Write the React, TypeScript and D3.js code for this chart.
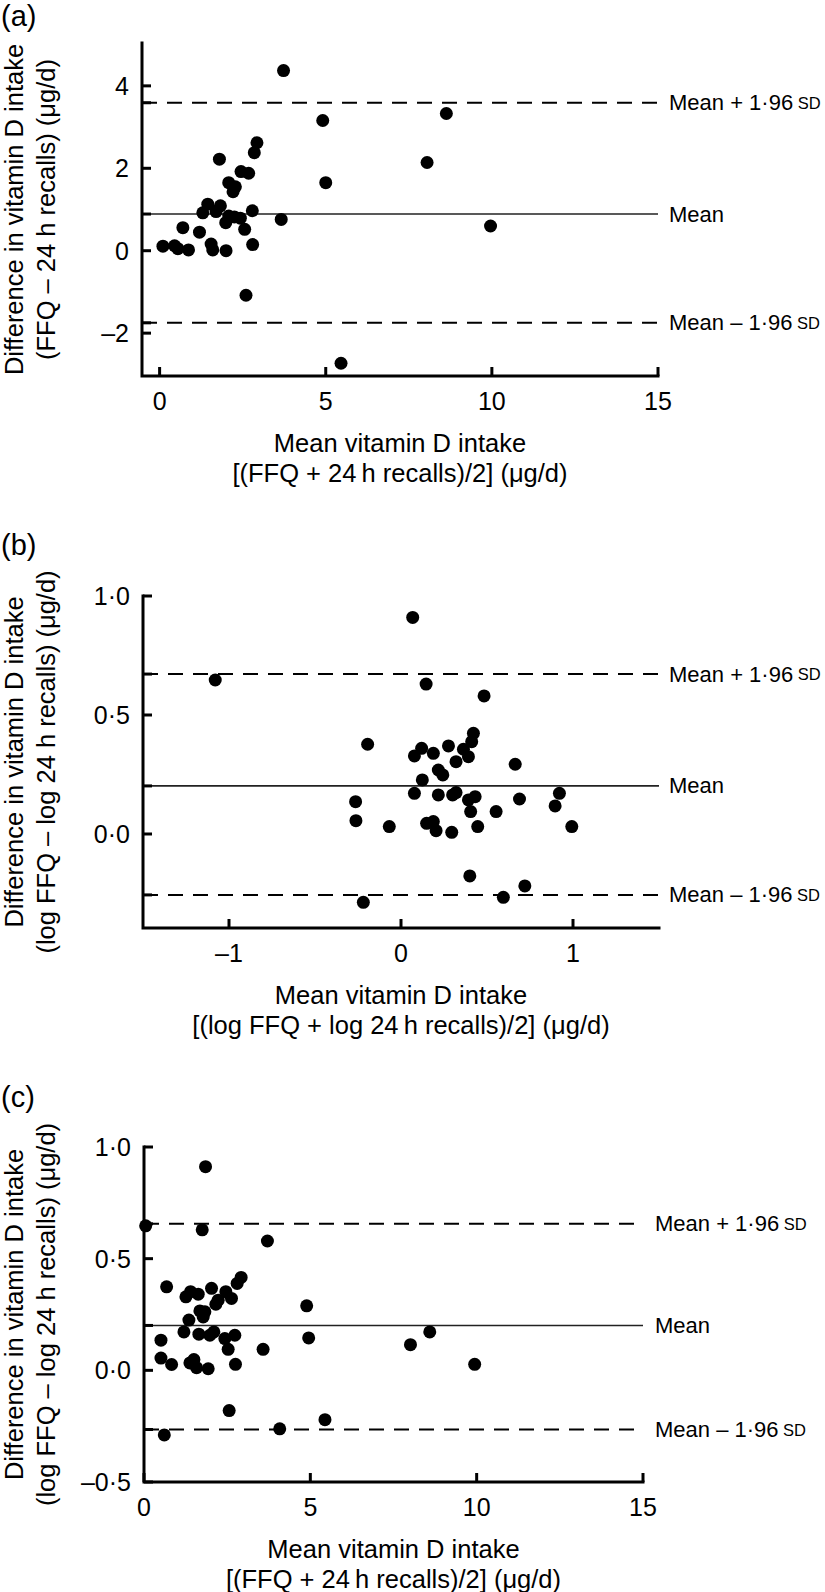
import React from 'react';
import * as d3 from 'd3';

type Pt = [number, number];

// (a) mean intake (µg/d) vs difference FFQ - 24 h recalls
const pointsA: Pt[] = [
  [3.73, 4.37], [4.91, 3.16], [2.93, 2.62], [2.85, 2.38], [1.8, 2.22],
  [2.45, 1.92], [2.68, 1.88], [5.0, 1.65], [2.08, 1.65], [2.28, 1.55],
  [2.21, 1.43], [1.45, 1.13], [1.83, 1.09], [1.3, 0.92], [1.7, 0.95],
  [2.08, 0.84], [2.25, 0.82], [1.99, 0.68], [2.43, 0.79], [2.79, 0.97],
  [2.56, 0.52], [3.66, 0.76], [1.2, 0.45], [0.7, 0.56], [0.1, 0.11],
  [0.45, 0.12], [0.55, 0.05], [0.87, 0.02], [1.55, 0.16], [1.6, 0.02],
  [2.0, 0.0], [2.8, 0.15], [2.6, -1.08], [8.63, 3.33], [8.05, 2.14],
  [9.96, 0.6], [5.46, -2.73],
];

// (b) log scale
const pointsB: Pt[] = [
  [0.068, 0.91], [-1.08, 0.647], [0.146, 0.63], [0.483, 0.58], [-0.194, 0.377],
  [0.421, 0.423], [0.411, 0.388], [0.276, 0.37], [0.12, 0.36], [0.078, 0.328],
  [0.188, 0.339], [0.363, 0.356], [0.392, 0.325], [0.32, 0.304], [0.664, 0.293],
  [0.217, 0.269], [0.243, 0.248], [0.124, 0.227], [0.078, 0.171], [0.217, 0.164],
  [0.3, 0.164], [0.32, 0.174], [0.392, 0.143], [0.431, 0.157], [0.405, 0.094],
  [0.553, 0.094], [0.689, 0.147], [0.921, 0.171], [0.896, 0.118], [0.993, 0.031],
  [-0.264, 0.136], [-0.262, 0.056], [-0.068, 0.031], [0.149, 0.045], [0.188, 0.052],
  [0.204, 0.014], [0.295, 0.007], [0.446, 0.031], [0.4, -0.176], [0.72, -0.218],
  [0.595, -0.266], [-0.219, -0.287],
];

// (c) log difference vs untransformed mean
const pointsC: Pt[] = [
  [1.85, 0.912], [0.05, 0.647], [1.75, 0.629], [3.71, 0.579], [0.68, 0.374],
  [1.26, 0.329], [1.4, 0.352], [1.63, 0.341], [2.03, 0.367], [2.46, 0.352],
  [2.63, 0.322], [2.8, 0.389], [2.92, 0.416], [2.23, 0.314], [2.16, 0.296],
  [4.89, 0.289], [1.68, 0.266], [1.83, 0.262], [1.78, 0.239], [1.35, 0.225],
  [1.2, 0.172], [1.65, 0.162], [1.98, 0.157], [2.1, 0.172], [2.43, 0.142],
  [2.73, 0.157], [2.53, 0.094], [0.51, 0.135], [0.51, 0.055], [0.83, 0.026],
  [1.38, 0.033], [1.5, 0.048], [1.58, 0.012], [1.93, 0.007], [2.75, 0.027],
  [3.58, 0.094], [4.95, 0.145], [8.01, 0.115], [8.59, 0.172], [9.94, 0.027],
  [2.56, -0.18], [5.44, -0.221], [4.08, -0.262], [0.61, -0.289],
];

// upper limit, mean, lower limit
const limitsA = [3.59, 0.89, -1.75];
const limitsB = [0.672, 0.202, -0.256];
const limitsC = [0.656, 0.201, -0.265];

const ticksXA = [0, 5, 10, 15];
const ticksYA = [-2, 0, 2, 4];
const ticksXB = [-1, 0, 1];
const ticksYB = [0, 0.5, 1];
const ticksXC = [0, 5, 10, 15];
const ticksYC = [-0.5, 0, 0.5, 1];

const limitLabels = ['Mean + 1·96', 'Mean', 'Mean – 1·96'];

const xTitleA = ['Mean vitamin D intake', '[(FFQ + 24\u2009h recalls)/2] (μg/d)'];
const xTitleB = ['Mean vitamin D intake', '[(log FFQ + log 24\u2009h recalls)/2] (μg/d)'];
const yTitleA = ['Difference in vitamin D intake', '(FFQ – 24 h recalls) (μg/d)'];
const yTitleB = ['Difference in vitamin D intake', '(log FFQ – log 24 h recalls) (μg/d)'];

const FONT = '"Liberation Sans", Arial, Helvetica, sans-serif';

const fmtInt = (v: number) => String(v).replace('-', '–');
const fmtDec = (v: number) => d3.format('.1f')(v).replace('.', '·').replace('-', '–').replace('−', '–');

interface PanelCfg {
  letter: string;
  left: number; right: number; top: number; bottom: number;
  xDomain: [number, number]; yDomain: [number, number];
  xTicks: number[]; yTicks: number[];
  xFmt: (v: number) => string; yFmt: (v: number) => string;
  points: Pt[];
  limits: number[];
  xTitle: string[]; yTitle: string[];
  labelX: number;
  letterY: number;
}

const Panel: React.FC<{ cfg: PanelCfg }> = ({ cfg }) => {
  const x = d3.scaleLinear().domain(cfg.xDomain).range([cfg.left, cfg.right]);
  const y = d3.scaleLinear().domain(cfg.yDomain).range([cfg.bottom, cfg.top]);
  const cy = (cfg.top + cfg.bottom) / 2;
  const cx = (cfg.left + cfg.right) / 2;
  const tickLen = 9;

  return (
    <g>
      <text x={1} y={cfg.letterY} fontSize={29}>{cfg.letter}</text>

      {/* agreement lines */}
      {cfg.limits.map((v, i) => (
        <line key={'l' + i}
          x1={cfg.left} x2={cfg.right} y1={y(v)} y2={y(v)}
          stroke={i === 1 ? '#222' : '#000'}
          strokeWidth={i === 1 ? 1.6 : 2}
          strokeDasharray={i === 1 ? undefined : '15 10'} />
      ))}
      {cfg.limits.map((v, i) => (
        <line key={'lt' + i} x1={cfg.left} x2={cfg.left + tickLen} y1={y(v)} y2={y(v)}
          stroke="#000" strokeWidth={3} />
      ))}
      {cfg.limits.map((v, i) => (
        <text key={'ll' + i} x={cfg.labelX} y={y(v)} dominantBaseline="central" fontSize={22}>
          {limitLabels[i]}
          {i !== 1 && <tspan fontSize={16.5}>{' SD'}</tspan>}
        </text>
      ))}

      {/* points */}
      {cfg.points.map((p, i) => (
        <circle key={'p' + i} cx={x(p[0])} cy={y(p[1])} r={6.5} fill="#000" />
      ))}

      {/* axes */}
      <path d={`M${cfg.left},${cfg.top}V${cfg.bottom}H${cfg.right}`} fill="none"
        stroke="#000" strokeWidth={3} strokeLinejoin="miter" strokeLinecap="square" />
      {cfg.yTicks.map((t) => (
        <g key={'yt' + t}>
          <line x1={cfg.left} x2={cfg.left + tickLen} y1={y(t)} y2={y(t)} stroke="#000" strokeWidth={3} />
          <text x={cfg.left - 13} y={y(t)} textAnchor="end" dominantBaseline="central" fontSize={25}>
            {cfg.yFmt(t)}
          </text>
        </g>
      ))}
      {cfg.xTicks.map((t) => (
        <g key={'xt' + t}>
          <line x1={x(t)} x2={x(t)} y1={cfg.bottom} y2={cfg.bottom - tickLen} stroke="#000" strokeWidth={3} />
          <text x={x(t)} y={cfg.bottom + 25} textAnchor="middle" dominantBaseline="central" fontSize={25}>
            {cfg.xFmt(t)}
          </text>
        </g>
      ))}

      {/* titles */}
      {cfg.xTitle.map((s, i) => (
        <text key={'xl' + i} x={cx} y={cfg.bottom + 67 + i * 30} textAnchor="middle"
          dominantBaseline="central" fontSize={25.5}>{s}</text>
      ))}
      {cfg.yTitle.map((s, i) => (
        <text key={'yl' + i} transform={`translate(${23 + i * 32},${cy}) rotate(-90)`}
          textAnchor="middle" fontSize={25.5}>{s}</text>
      ))}
    </g>
  );
};

export default function App() {
  const panels: PanelCfg[] = [
    {
      letter: '(a)', left: 142, right: 658, top: 43, bottom: 376,
      xDomain: [-0.53, 15], yDomain: [-3.04, 5.04],
      xTicks: ticksXA, yTicks: ticksYA, xFmt: fmtInt, yFmt: fmtInt,
      points: pointsA, limits: limitsA, xTitle: xTitleA, yTitle: yTitleA,
      labelX: 669, letterY: 26,
    },
    {
      letter: '(b)', left: 143, right: 659, top: 596, bottom: 928,
      xDomain: [-1.5, 1.5], yDomain: [-0.395, 1.0],
      xTicks: ticksXB, yTicks: ticksYB, xFmt: fmtInt, yFmt: fmtDec,
      points: pointsB, limits: limitsB, xTitle: xTitleB, yTitle: yTitleB,
      labelX: 669, letterY: 555,
    },
    {
      letter: '(c)', left: 144, right: 643, top: 1147, bottom: 1482,
      xDomain: [0, 15], yDomain: [-0.5, 1.0],
      xTicks: ticksXC, yTicks: ticksYC, xFmt: fmtInt, yFmt: fmtDec,
      points: pointsC, limits: limitsC, xTitle: xTitleA, yTitle: yTitleB,
      labelX: 655, letterY: 1107,
    },
  ];

  return (
    <svg width={825} height={1592} fontFamily={FONT}
      style={{ position: 'absolute', left: 0, top: 0, display: 'block', background: '#fff' }}>
      <rect width={825} height={1592} fill="#fff" />
      {panels.map((p) => <Panel key={p.letter} cfg={p} />)}
    </svg>
  );
}
